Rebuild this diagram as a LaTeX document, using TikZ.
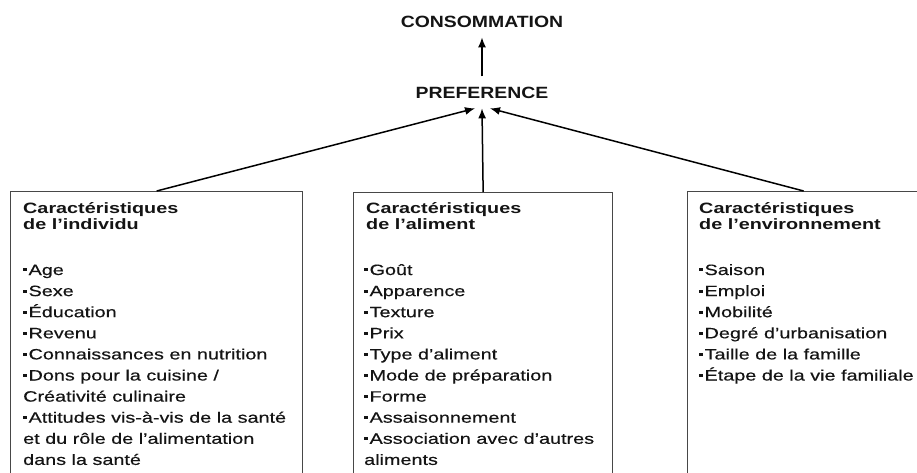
\documentclass[tikz,border=0pt]{standalone}
\usepackage{fontspec}
\setmainfont{Liberation Sans}[FakeStretch=1.32, UprightFeatures={FakeBold=0.35}]
\newfontfamily\headfont{Liberation Sans}[FakeStretch=1.19]
\usetikzlibrary{arrows.meta,calc}

% small square dot used in front of each list item
\newcommand\puce{\rule[3.6pt]{3.4pt}{3pt}\kern2pt}

\tikzset{
  panel/.style={draw=black!72, line width=1.3pt, rectangle, inner sep=0pt,
                anchor=north west},
  entry/.style={anchor=base west, inner sep=0pt, text=black!92,
                font=\fontsize{15}{18}\selectfont},
  heading/.style={entry, font=\fontsize{15}{18}\selectfont\bfseries},
  stage/.style={anchor=base, inner xsep=0pt, inner ysep=10pt, text=black!92,
                font=\headfont\fontsize{16.3}{19}\selectfont\bfseries},
  link/.style={line width=1.5pt, -{Latex[length=10pt,width=8pt]}},
}

\begin{document}
\begin{tikzpicture}[x=1pt,y=-1pt]
  \useasboundingbox (0,0) rectangle (917,472);
  \clip (0,0) rectangle (917,472);
  \fill[white] (0,0) rectangle (917,472);

  % the two stages at the top
  \node[stage] (cons) at (482,27) {CONSOMMATION};
  \node[stage] (pref) at (482,98) {PREFERENCE};

  % three panels, open below the lower edge
  \node[panel, minimum width=292pt, minimum height=300pt] (boxA) at (10,191) {};
  \node[panel, minimum width=259pt, minimum height=300pt] (boxB) at (353,192) {};
  \node[panel, minimum width=232pt, minimum height=300pt] (boxC) at (687,191) {};

  % arrow heads meet just below PREFERENCE
  \coordinate (inL) at ($(pref.south)+(-7,0)$);
  \coordinate (inM) at (pref.south);
  \coordinate (inR) at ($(pref.south)+(8,0)$);

  \draw[link] (pref.north) -- (cons.south);
  \draw[link] (boxA.north) -- (inL);
  \draw[link] (boxB.north) -- (inM);
  \draw[link] (boxC.north) -- (inR);

  % panel: individual
  \node[heading] (At1) at (23,213) {Caractéristiques};
  \node[heading] (At2) at (23,229.5) {de l’individu};
  \foreach \t [count=\i] in {
      \puce Age,
      \puce Sexe,
      \puce Éducation,
      \puce Revenu,
      \puce Connaissances en nutrition,
      \puce Dons pour la cuisine /,
      Créativité culinaire,
      \puce Attitudes vis-à-vis de la santé,
      et du rôle de l’alimentation,
      dans la santé}
    \node[entry] (A\i) at (23,{275+(\i-1)*21.1}) {\t};

  % panel: food
  \node[heading] (Bt1) at (366,213) {Caractéristiques};
  \node[heading] (Bt2) at (366,229.5) {de l’aliment};
  \foreach \t [count=\i] in {
      \puce Goût,
      \puce Apparence,
      \puce Texture,
      \puce Prix,
      \puce Type d’aliment,
      \puce Mode de préparation,
      \puce Forme,
      \puce Assaisonnement,
      \puce Association avec d’autres,
      aliments}
    \node[entry] (B\i) at (364,{275+(\i-1)*21.1}) {\t};

  % panel: environment
  \node[heading] (Ct1) at (699,213) {Caractéristiques};
  \node[heading] (Ct2) at (699,229.5) {de l’environnement};
  \foreach \t [count=\i] in {
      \puce Saison,
      \puce Emploi,
      \puce Mobilité,
      \puce Degré d’urbanisation,
      \puce Taille de la famille,
      \puce Étape de la vie familiale}
    \node[entry] (C\i) at (699,{275+(\i-1)*21.1}) {\t};
\end{tikzpicture}
\end{document}
